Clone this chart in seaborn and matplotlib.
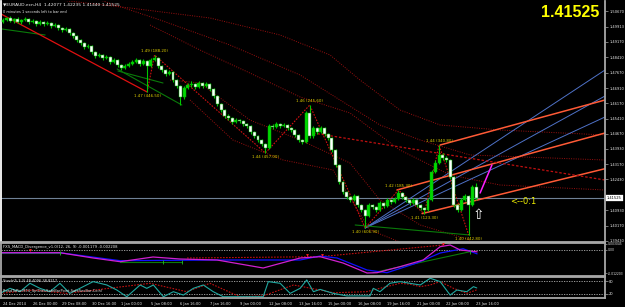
import matplotlib
matplotlib.use("Agg")
import matplotlib.pyplot as plt
import matplotlib.transforms as mtransforms
import numpy as np
import pandas as pd
import seaborn as sns

# ---------------- data ----------------
bar_index = list(range(129))
opens = [1.50146, 1.50244, 1.50342, 1.50195, 1.50293, 1.50146, 1.50244, 1.50293, 1.50146, 1.50195,
         1.50048, 1.50146, 1.50048, 1.50097, 1.49950, 1.49999, 1.49852, 1.49754, 1.49803, 1.49607,
         1.49460, 1.49264, 1.49117, 1.48921, 1.48970, 1.48676, 1.48480, 1.48529, 1.48382, 1.48431,
         1.48186, 1.48284, 1.48039, 1.47892, 1.47990, 1.48088, 1.48186, 1.48284, 1.48088, 1.48235,
         1.47990, 1.48284, 1.48382, 1.47990, 1.47794, 1.47598, 1.47696, 1.47304, 1.47010, 1.46471,
         1.46912, 1.47059, 1.47108, 1.46961, 1.47157, 1.47010, 1.47108, 1.46863, 1.46520, 1.46128,
         1.45834, 1.45540, 1.45442, 1.45246, 1.45344, 1.45295, 1.45148, 1.45050, 1.44756, 1.44560,
         1.44364, 1.44168, 1.43972, 1.45050, 1.45001, 1.45148, 1.45050, 1.45099, 1.44952, 1.44854,
         1.44609, 1.44364, 1.44266, 1.45687, 1.44560, 1.44952, 1.44756, 1.44952, 1.44658, 1.44462,
         1.43874, 1.43139, 1.42306, 1.41816, 1.41571, 1.41424, 1.41620, 1.41179, 1.40934, 1.40640,
         1.41179, 1.41081, 1.40934, 1.41277, 1.41130, 1.41424, 1.41326, 1.41473, 1.41767, 1.41571,
         1.41424, 1.41277, 1.41424, 1.41179, 1.41032, 1.40934, 1.41424, 1.42796, 1.43237, 1.43629,
         1.43482, 1.43384, 1.42551, 1.41179, 1.40934, 1.41424, 1.41620, 1.41179, 1.42077]
closes = [1.50244, 1.50342, 1.50195, 1.50293, 1.50146, 1.50244, 1.50293, 1.50146, 1.50195, 1.50048,
          1.50146, 1.50048, 1.50097, 1.49950, 1.49999, 1.49852, 1.49754, 1.49803, 1.49607, 1.49460,
          1.49264, 1.49117, 1.48921, 1.48970, 1.48676, 1.48480, 1.48529, 1.48382, 1.48431, 1.48186,
          1.48284, 1.48039, 1.47892, 1.47990, 1.48088, 1.48186, 1.48284, 1.48088, 1.48235, 1.47990,
          1.48284, 1.48382, 1.47990, 1.47794, 1.47598, 1.47696, 1.47304, 1.47010, 1.46471, 1.46912,
          1.47059, 1.47108, 1.46961, 1.47157, 1.47010, 1.47108, 1.46863, 1.46520, 1.46128, 1.45834,
          1.45540, 1.45442, 1.45246, 1.45344, 1.45295, 1.45148, 1.45050, 1.44756, 1.44560, 1.44364,
          1.44168, 1.43972, 1.45050, 1.45001, 1.45148, 1.45050, 1.45099, 1.44952, 1.44854, 1.44609,
          1.44364, 1.44266, 1.45687, 1.44560, 1.44952, 1.44756, 1.44952, 1.44658, 1.44462, 1.43874,
          1.43139, 1.42306, 1.41816, 1.41571, 1.41424, 1.41620, 1.41179, 1.40934, 1.40640, 1.41179,
          1.41081, 1.40934, 1.41277, 1.41130, 1.41424, 1.41326, 1.41473, 1.41767, 1.41571, 1.41424,
          1.41277, 1.41424, 1.41179, 1.41032, 1.40934, 1.41424, 1.42796, 1.43237, 1.43629, 1.43482,
          1.43384, 1.42551, 1.41179, 1.40934, 1.41424, 1.41620, 1.41179, 1.42077, 1.41525]
highs = [1.50342, 1.50391, 1.50440, 1.50342, 1.50391, 1.50293, 1.50391, 1.50342, 1.50293, 1.50244,
         1.50244, 1.50195, 1.50195, 1.50146, 1.50097, 1.50048, 1.49901, 1.49901, 1.49852, 1.49656,
         1.49509, 1.49313, 1.49166, 1.49068, 1.49019, 1.48725, 1.48627, 1.48578, 1.48529, 1.48480,
         1.48382, 1.48333, 1.48088, 1.48088, 1.48186, 1.48284, 1.48382, 1.48333, 1.48333, 1.48284,
         1.48382, 1.48529, 1.48431, 1.48039, 1.47843, 1.47794, 1.47745, 1.47353, 1.47059, 1.47010,
         1.47157, 1.47255, 1.47157, 1.47255, 1.47206, 1.47206, 1.47157, 1.46912, 1.46569, 1.46177,
         1.45883, 1.45638, 1.45491, 1.45442, 1.45393, 1.45344, 1.45197, 1.45099, 1.44805, 1.44609,
         1.44413, 1.44217, 1.45148, 1.45148, 1.45246, 1.45197, 1.45197, 1.45148, 1.45001, 1.44903,
         1.44658, 1.44413, 1.45785, 1.46079, 1.45050, 1.45001, 1.45050, 1.45001, 1.44707, 1.44511,
         1.43923, 1.43188, 1.42355, 1.41865, 1.41620, 1.41718, 1.41669, 1.41228, 1.40983, 1.41277,
         1.41228, 1.41130, 1.41375, 1.41326, 1.41522, 1.41473, 1.41571, 1.41914, 1.41816, 1.41620,
         1.41473, 1.41522, 1.41473, 1.41228, 1.41081, 1.41522, 1.42894, 1.43384, 1.44119, 1.43727,
         1.43580, 1.43433, 1.42600, 1.41228, 1.41522, 1.41718, 1.41669, 1.42159, 1.42235]
lows = [1.50097, 1.50195, 1.50146, 1.50097, 1.50097, 1.50048, 1.50195, 1.50048, 1.50097, 1.49950,
        1.49999, 1.49950, 1.49999, 1.49852, 1.49901, 1.49754, 1.49656, 1.49705, 1.49509, 1.49362,
        1.49166, 1.49019, 1.48823, 1.48872, 1.48578, 1.48382, 1.48431, 1.48284, 1.48333, 1.48088,
        1.48137, 1.47941, 1.47794, 1.47843, 1.47941, 1.48039, 1.48137, 1.47990, 1.48039, 1.46716,
        1.47941, 1.48235, 1.47892, 1.47696, 1.47500, 1.47549, 1.47206, 1.46912, 1.46079, 1.46373,
        1.46863, 1.46961, 1.46863, 1.46912, 1.46912, 1.46961, 1.46765, 1.46422, 1.46030, 1.45736,
        1.45442, 1.45344, 1.45148, 1.45197, 1.45197, 1.45050, 1.44952, 1.44658, 1.44462, 1.44266,
        1.44070, 1.43727, 1.43923, 1.44903, 1.44952, 1.44952, 1.45001, 1.44854, 1.44756, 1.44511,
        1.44266, 1.44168, 1.44217, 1.44462, 1.44462, 1.44658, 1.44707, 1.44560, 1.44364, 1.43776,
        1.43041, 1.42208, 1.41718, 1.41473, 1.41326, 1.41375, 1.41081, 1.40836, 1.40052, 1.40591,
        1.40983, 1.40836, 1.40885, 1.41032, 1.41081, 1.41228, 1.41277, 1.41424, 1.41473, 1.41326,
        1.41179, 1.41228, 1.41081, 1.40934, 1.40738, 1.40885, 1.41375, 1.42747, 1.43188, 1.43384,
        1.43286, 1.42453, 1.41081, 1.40836, 1.40885, 1.41375, 1.39709, 1.41130, 1.41440]

last_price = 1.41525
price_ticks = [1.50670, 1.49913, 1.49170, 1.48410, 1.47670, 1.46910, 1.46170, 1.45410,
               1.44670, 1.43930, 1.43170, 1.42430, 1.40930, 1.40170, 1.39430]
price_tick_labels = ["1.50670", "1.49913", "1.49170", "1.48410", "1.47670", "1.46910", "1.46170",
                     "1.45410", "1.44670", "1.43930", "1.43170", "1.42430", "1.40930", "1.40170",
                     "1.39430"]
date_ticks = [0, 8, 16, 24, 32, 40, 48, 56, 64, 72, 80, 88, 96, 104, 112, 120, 128]
date_labels = ["24 Dec 2014", "26 Dec 00:00", "29 Dec 08:00", "30 Dec 16:00", "1 Jan 00:00",
               "5 Jan 08:00", "6 Jan 16:00", "7 Jan 16:00", "9 Jan 00:00", "12 Jan 08:00",
               "13 Jan 16:00", "15 Jan 00:00", "16 Jan 08:00", "19 Jan 16:00", "21 Jan 00:00",
               "22 Jan 08:00", "23 Jan 16:00"]

# zigzag pivots
zigzag_x = [39, 41, 71, 83, 98, 107, 114, 118, 126]
zigzag_y = [1.46716, 1.48529, 1.43727, 1.46079, 1.40052, 1.41914, 1.40738, 1.44119, 1.39709]
zigzag_labels = ["1.47 (446.50)", "1.49 (188.20)", "1.44 (457.00)", "1.46 (245.60)",
                 "1.40 (606.90)", "1.42 (185.30)", "1.41 (123.30)", "1.44 (340.80)",
                 "1.40 (442.80)"]
zigzag_is_high = [False, True, False, True, False, True, False, True, False]

# trend / channel lines (bar index, price)
red_trend_x = [-0.8, 39.0]
red_trend_y = [1.50563, 1.46716]
red_dash_x = [83.9, 162.9]
red_dash_y = [1.44707, 1.42404]
fork_up_x = [118.3, 162.9]
fork_up_y = [1.44119, 1.46324]
fork_mid_x = [106.6, 162.9]
fork_mid_y = [1.41914, 1.44707]
fork_low_x = [113.4, 162.9]
fork_low_y = [1.40758, 1.42958]
fan1_x = [98.0, 162.9]
fan1_y = [1.40052, 1.45491]
fan2_x = [98.0, 162.9]
fan2_y = [1.40052, 1.46520]
fan3_x = [98.0, 162.9]
fan3_y = [1.40052, 1.47794]
green1_x = [-0.3, 11.4]
green1_y = [1.49803, 1.49509]
green2_x = [30.9, 48.4]
green2_y = [1.47843, 1.46079]
green3_x = [31.1, 43.3]
green3_y = [1.47745, 1.47157]
green4_x = [95.3, 126.4]
green4_y = [1.40199, 1.39709]
forecast_x = [129.1, 132.3]
forecast_y = [1.41767, 1.43139]

# dotted envelope curves
env1_x = [15.4, 34.4, 56.0, 75.0, 88.5, 96.6, 107.4, 118.3, 134.5, 162.9]
env1_y = [1.51224, 1.50832, 1.50342, 1.49509, 1.48529, 1.47304, 1.45834, 1.45099, 1.44854, 1.44609]
env2_x = [26.3, 42.5, 61.4, 80.4, 91.2, 102.0, 112.9, 126.4, 162.9]
env2_y = [1.51224, 1.50244, 1.49019, 1.47549, 1.46324, 1.45099, 1.44364, 1.43629, 1.43384]
env3_x = [39.8, 53.3, 66.8, 80.4, 93.9, 107.4, 121.0, 134.5, 162.9]
env3_y = [1.49999, 1.48774, 1.47647, 1.46471, 1.45687, 1.43874, 1.42649, 1.42159, 1.41914]
env4_x = [45.2, 53.3, 66.8, 80.4, 93.9, 102.0, 112.9, 126.4]
env4_y = [1.47304, 1.47157, 1.45344, 1.44364, 1.43237, 1.41424, 1.40199, 1.39464]
env5_x = [50.6, 62.2, 75.8, 89.3, 99.3, 107.4]
env5_y = [1.46324, 1.44364, 1.43384, 1.42894, 1.39954, 1.39366]

# MACD panel
macd_x = [-0.8, 15.4, 24.4, 31.7, 40.6, 47.9, 57.9, 70.4, 80.4, 85.8, 92.0, 98.5, 101.2,
          107.4, 113.7, 118.3, 121.0, 123.7, 128.3]
macd_y = [-0.00163, -0.00163, -0.00433, -0.00621, -0.00382, -0.00484, -0.00534, -0.00942,
          -0.00433, -0.00366, -0.00687, -0.01196, -0.01181, -0.00875, -0.00534, 0.00143,
          0.00229, -0.00025, -0.00118]
signal_x = [-0.8, 15.4, 31.7, 57.9, 80.4, 85.8, 90.4, 98.5, 103.9, 112.0, 118.3, 124.5, 128.3]
signal_y = [-0.00163, -0.00163, -0.00570, -0.00534, -0.00534, -0.00331, -0.00433, -0.01043,
            -0.01181, -0.00687, -0.00178, 0.00040, -0.00221]
macd_div_x = [49.8, 85.8, 119.1]
macd_div_y = [-0.00433, -0.00366, 0.00229]
macd_g1_x = [-0.8, 15.4]
macd_g1_y = [-0.00163, -0.00163]
macd_g2_x = [31.7, 48.4]
macd_g2_y = [-0.00621, -0.00621]
macd_g3_x = [100.1, 126.4]
macd_g3_y = [-0.01181, -0.00112]
arrow_x = [7.3, 82.3, 86.3, 119.1]
arrow_y = [-0.0003, -0.0028, -0.0028, 0.0028]
gmark_x = [15.4, 43.3, 48.4, 126.4]
gmark_y = [-0.00163, -0.00621, -0.00621, -0.00112]

# Stochastic panel
stoch_x = [-0.8, 1.9, 4.6, 7.3, 10.0, 12.7, 15.4, 18.1, 20.8, 24.4, 28.1, 30.8, 33.5, 37.1, 38.9,
           40.7, 43.4, 46.1, 48.8, 51.5, 54.2, 56.9, 59.6, 70.4, 71.8, 75.0, 77.7, 80.4, 82.2,
           84.0, 85.8, 89.4, 93.0, 99.3, 100.2, 102.0, 104.7, 107.4, 110.1, 112.9, 115.6, 118.3,
           121.0, 122.8, 125.5, 127.3, 128.2]
stoch_y = [22, 46, 30, 70, 46, 30, 70, 22, 46, 78, 62, 38, 6, 62, 46, 62, 6, 30, 14, 46, 62, 30,
           6, 6, 78, 70, 22, 46, 86, 30, 41, 22, 10, 10, 46, 30, 70, 78, 70, 62, 94, 78, 14, 38,
           30, 54, 48]
stsig_x = [-0.8, 8.2, 17.2, 26.3, 39.8, 49.7, 56.0, 64.1, 70.4, 78.6, 85.8, 89.4, 98.4, 103.8,
           107.4, 110.1, 112.9, 115.6, 118.3, 121.9, 125.5, 128.2]
stsig_y = [22, 38, 22, 41, 70, 30, 70, 6, 10, 62, 38, 25, 30, 54, 70, 66, 54, 62, 78, 46, 22, 39]

# ---------------- figure ----------------
sns.set_style("dark")
plt.rcParams['font.family'] = ['DejaVu Sans']

W, H = 625, 307
fig = plt.figure(figsize=(W / 100, H / 100), dpi=100, facecolor='black')
FRAME = '#a8a8a8'


def px_axes(x0, y0, x1, y1):
    a = fig.add_axes([x0 / W, 1 - y1 / H, (x1 - x0) / W, (y1 - y0) / H])
    a.set_facecolor('black')
    a.grid(False)
    for s in a.spines.values():
        s.set_color(FRAME)
        s.set_linewidth(1.3)
    a.set_xlim(-0.54, 162.9)
    return a


ax = px_axes(1, 1, 605, 242)
axm = px_axes(1, 243, 605, 276)
axs = px_axes(1, 277, 605, 298)

ax.set_ylim(1.39366, 1.51175)
axm.set_ylim(-0.01349, 0.00331)
axs.set_ylim(0, 100)
ax.spines['top'].set_visible(False)
ax.spines['left'].set_color('white')

# ---- envelopes (dotted dark red) ----
for ex, ey in [(env1_x, env1_y), (env2_x, env2_y), (env3_x, env3_y), (env4_x, env4_y),
               (env5_x, env5_y)]:
    sns.lineplot(x=ex, y=ey, ax=ax, color='#9a1010', lw=0.7, linestyle=(0, (1, 1.4)),
                 sort=False, estimator=None)

# current price line
ax.axhline(last_price, color='#6f8196', lw=0.8, zorder=1)

# blue fan
for fx, fy in [(fan1_x, fan1_y), (fan2_x, fan2_y), (fan3_x, fan3_y)]:
    sns.lineplot(x=fx, y=fy, ax=ax, color='#4f72c8', lw=0.7, estimator=None)
# orange pitchfork
for fx, fy in [(fork_up_x, fork_up_y), (fork_mid_x, fork_mid_y), (fork_low_x, fork_low_y)]:
    sns.lineplot(x=fx, y=fy, ax=ax, color='#ff5a36', lw=1.1, estimator=None)

# green lines
for gx, gy in [(green1_x, green1_y), (green2_x, green2_y), (green3_x, green3_y),
               (green4_x, green4_y)]:
    sns.lineplot(x=gx, y=gy, ax=ax, color='#0a7a0a', lw=0.8, estimator=None)

# red lines
sns.lineplot(x=red_trend_x, y=red_trend_y, ax=ax, color='#e01010', lw=0.9, estimator=None)
sns.lineplot(x=red_dash_x, y=red_dash_y, ax=ax, color='#c01010', lw=0.9,
             linestyle=(0, (2, 1.5)), estimator=None)
sns.lineplot(x=zigzag_x, y=zigzag_y, ax=ax, color='#d01010', lw=0.8,
             linestyle=(0, (1.5, 1.2)), sort=False, estimator=None)

# ---- candles ----
df = pd.DataFrame(dict(bar=bar_index, open=opens, high=highs, low=lows, close=closes))
bull = df['close'] >= df['open']
body_bottom = np.minimum(df['open'], df['close'])
body_h = np.maximum(np.abs(df['close'] - df['open']), 0.00040)
ax.vlines(df['bar'], df['low'], df['high'], color='#00c800', lw=0.8, zorder=4)
ax.bar(df['bar'], body_h, bottom=body_bottom, width=0.8,
       color=np.where(bull, '#00d800', '#ffffff'), edgecolor='#00b000', linewidth=0.35,
       zorder=5)

# forecast magenta
sns.lineplot(x=forecast_x, y=forecast_y, ax=ax, color='#ff20ff', lw=1.1, estimator=None)

# zigzag labels
for zx, zy, zl, hi in zip(zigzag_x, zigzag_y, zigzag_labels, zigzag_is_high):
    ax.annotate(zl, (zx, zy), xytext=(0, 3.2 if hi else -3.2), textcoords='offset points',
                ha='center', va='center', fontsize=2.9, color='#e0d000', zorder=7)

# arrow and fib text
ax.text(128.6, 1.40700, '\u21e7', color='white', fontsize=10, ha='center', va='center',
        zorder=7)
ax.text(137.2, 1.41370, '<--0:1', color='#f0f000', fontsize=6, ha='left', va='center')

# ---- right price axis ----
ax.yaxis.tick_right()
ax.set_yticks(price_ticks)
ax.set_yticklabels(price_tick_labels)
ax.tick_params(axis='y', length=2, width=0.5, pad=1, labelsize=2.6, labelcolor='#e8e8e8',
               color=FRAME)
ax.set_xticks([])
ax.set_xlabel('')
ax.set_ylabel('')
blend = mtransforms.blended_transform_factory(ax.transAxes, ax.transData)
ax.text(1.003, last_price, '1.41525', transform=blend, fontsize=2.6, color='black',
        ha='left', va='center',
        bbox=dict(boxstyle='square,pad=0.25', fc='white', ec='white', lw=0.2), zorder=8,
        clip_on=False)

# ---- MACD ----
axm.axhline(0, color='#b0b0b0', lw=0.6, linestyle=(0, (1.5, 1.5)))
sns.lineplot(x=macd_g1_x, y=macd_g1_y, ax=axm, color='#0a7a0a', lw=0.8, estimator=None)
sns.lineplot(x=macd_g2_x, y=macd_g2_y, ax=axm, color='#0a7a0a', lw=0.8, estimator=None)
sns.lineplot(x=macd_g3_x, y=macd_g3_y, ax=axm, color='#0a7a0a', lw=0.8, estimator=None)
sns.lineplot(x=macd_div_x, y=macd_div_y, ax=axm, color='#c01010', lw=0.8,
             linestyle=(0, (1.5, 1.2)), estimator=None)
sns.lineplot(x=signal_x, y=signal_y, ax=axm, color='#1010ff', lw=0.9, estimator=None)
sns.lineplot(x=macd_x, y=macd_y, ax=axm, color='#d020d0', lw=0.9, estimator=None)
axm.scatter(arrow_x, arrow_y, marker='v', s=4, color='#ff2020', zorder=6, linewidths=0)
axm.scatter(gmark_x, gmark_y, marker='|', s=6, color='#20c020', zorder=6, linewidths=0.6)
axm.yaxis.tick_right()
axm.set_yticks([0.00304, 0.0, -0.0122])
axm.set_yticklabels(["0.003045", "0.00", "-0.012203"])
axm.tick_params(axis='y', length=1.5, width=0.5, pad=0.6, labelsize=2.15, labelcolor='#e8e8e8',
                color=FRAME)
axm.set_xticks([])
axm.set_xlabel('')
axm.set_ylabel('')
axm.text(0.004, 0.88, 'FXS_MACD_Divergence_v1.0(12, 26, 9) -0.001179 -0.002208',
         transform=axm.transAxes, fontsize=2.7, color='#e8e8e8', ha='left', va='center')

# ---- Stochastic ----
for lvl in (80, 20):
    axs.axhline(lvl, color='#b0b0b0', lw=0.6, linestyle=(0, (1.5, 1.5)))
sns.lineplot(x=stsig_x, y=stsig_y, ax=axs, color='#c01010', lw=0.8,
             linestyle=(0, (1.5, 1.2)), estimator=None)
sns.lineplot(x=stoch_x, y=stoch_y, ax=axs, color='#20a8a0', lw=0.8, estimator=None)
axs.yaxis.tick_right()
axs.set_yticks([80, 20])
axs.set_yticklabels(["80", "20"])
axs.tick_params(axis='y', length=2, width=0.5, pad=1, labelsize=2.6, labelcolor='#e8e8e8',
                color=FRAME)
axs.set_xticks(date_ticks)
axs.set_xticklabels(date_labels, ha='left')
axs.tick_params(axis='x', length=2, width=0.5, pad=1, labelsize=2.6, labelcolor='#e8e8e8',
                color=FRAME, direction='out')
axs.set_xlabel('')
axs.set_ylabel('')
axs.text(0.004, 0.82, 'Stoch(5,3,3) 48.4096 38.8217', transform=axs.transAxes,
         fontsize=2.6, color='#e8e8e8', ha='left', va='center')
axs.text(0.004, 0.35, 'RoadToPin MT4_Sp(Dist,SafeBarPoint,SafeSecBar,Coin)',
         transform=axs.transAxes, fontsize=2.6, color='#e8e8e8', ha='left', va='center')

# ---- header texts ----
fig.text(3 / W, 1 - 5 / H, '\u25bcEURAUD.ecn,H4  1.42077 1.42235 1.41440 1.41525',
         fontsize=3.2, color='#f0f0f0', ha='left', va='center')
fig.text(3 / W, 1 - 12 / H, '0 minutes 1 seconds left to bar end', fontsize=2.5,
         color='#f0f0f0', ha='left', va='center')
fig.text(599 / W, 1 - 12.5 / H, '1.41525', fontsize=11.5, color='#ffff00', ha='right',
         va='center', fontweight='bold', family=['Liberation Sans', 'DejaVu Sans'])

fig.savefig('out.png', dpi=100, facecolor='black')
